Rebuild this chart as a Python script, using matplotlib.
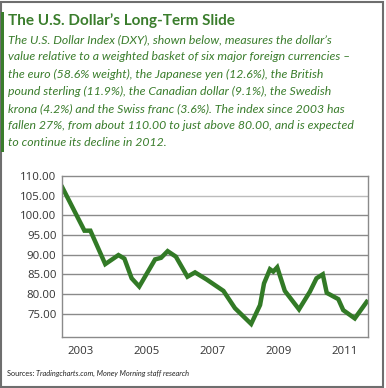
import matplotlib
matplotlib.use("Agg")
import matplotlib.pyplot as plt
from matplotlib.patches import Rectangle

# DXY index (x in fractional years)
years = [2002.96, 2003.63, 2003.81, 2004.26, 2004.66, 2004.84, 2005.06, 2005.29,
         2005.77, 2005.95, 2006.15, 2006.40, 2006.75, 2006.98, 2007.33, 2007.84,
         2008.19, 2008.68, 2008.95, 2009.07, 2009.25, 2009.35, 2009.47, 2009.70,
         2010.13, 2010.46, 2010.66, 2010.85, 2010.97, 2011.32, 2011.47, 2011.82,
         2012.18]
dxy = [107.1, 96.1, 96.1, 87.6, 89.9, 89.0, 84.0, 81.9,
       88.8, 89.2, 90.9, 89.5, 84.4, 85.5, 83.7, 80.8,
       76.4, 72.4, 77.2, 82.7, 86.3, 85.7, 86.8, 80.8,
       76.1, 80.6, 84.0, 85.0, 80.3, 78.7, 75.9, 73.8,
       78.0]
tick_years = [2003, 2005, 2007, 2009, 2011]
y_ticks = [75, 80, 85, 90, 95, 100, 105, 110]

title = "The U.S. Dollar\u2019s Long-Term Slide"
body = [
    "The U.S. Dollar Index (DXY), shown below, measures the dollar\u2019s",
    "value relative to a weighted basket of six major foreign currencies \u2013",
    "the euro (58.6% weight), the Japanese yen (12.6%), the British",
    "pound sterling (11.9%), the Canadian dollar (9.1%), the Swedish",
    "krona (4.2%) and the Swiss franc (3.6%). The index since 2003 has",
    "fallen 27%, from about 110.00 to just above 80.00, and is expected",
    "to continue its decline in 2012.",
]

green = "#3a7d2c"
W, H = 386, 388
fig = plt.figure(figsize=(W / 100, H / 100), dpi=100)
fig.patch.set_facecolor("white")

# outer frame and green accent bar
fig.add_artist(Rectangle((1 / W, 1 / H), (W - 4) / W, (H - 3) / H, transform=fig.transFigure,
                         fill=False, edgecolor="#6e6e6e", linewidth=1.5))
fig.add_artist(Rectangle((1 / W, 1 - 152 / H), 3 / W, 140 / H, transform=fig.transFigure,
                         facecolor=green, edgecolor="none"))

fig.text(8 / W, 1 - 25 / H, title, fontsize=11.0, fontweight="bold", color=green,
         family="Lato", va="baseline")
for i, line in enumerate(body):
    fig.text(8 / W, 1 - (43.3 + i * 17.2) / H, line, fontsize=8.8, style="italic",
             color=green, family="Lato", va="baseline")

ax = fig.add_axes([62 / W, 1 - 336.7 / H, 306 / W, 160.7 / H])
ax.plot(years, dxy, color="#327a26", linewidth=3.2, solid_joinstyle="miter")
ax.set_ylim(69.15, 110)
ax.set_xlim(2002.95, 2012.22)
ax.set_yticks(y_ticks)
ax.set_yticklabels([f"{v:.2f}" for v in y_ticks])
ax.set_xticks([y + 0.5 for y in tick_years])
ax.set_xticklabels([str(y) for y in tick_years])
ax.tick_params(length=0, labelsize=8.2, colors="#333333", pad=4)
ax.tick_params(axis="x", pad=7)
for lab in ax.get_xticklabels() + ax.get_yticklabels():
    lab.set_family("Open Sans")
for v in y_ticks[:-1]:
    ax.axhline(v, color="#bbbbbb" if v == 105 else "#8a8a8a", linewidth=1, zorder=0)
for s in ax.spines.values():
    s.set_color("#8a8a8a")
    s.set_linewidth(1)

t1 = fig.text(7 / W, 1 - 376 / H, "Sources: ", fontsize=5.3, color="#222222",
              family="Lato", va="baseline")
fig.canvas.draw()
bb = t1.get_window_extent()
fig.text(bb.x1 / W, 1 - 376 / H, "Tradingcharts.com, Money Morning staff research",
         fontsize=5.3, style="italic", color="#222222", family="Lato", va="baseline")

fig.savefig("out.png", dpi=100)
